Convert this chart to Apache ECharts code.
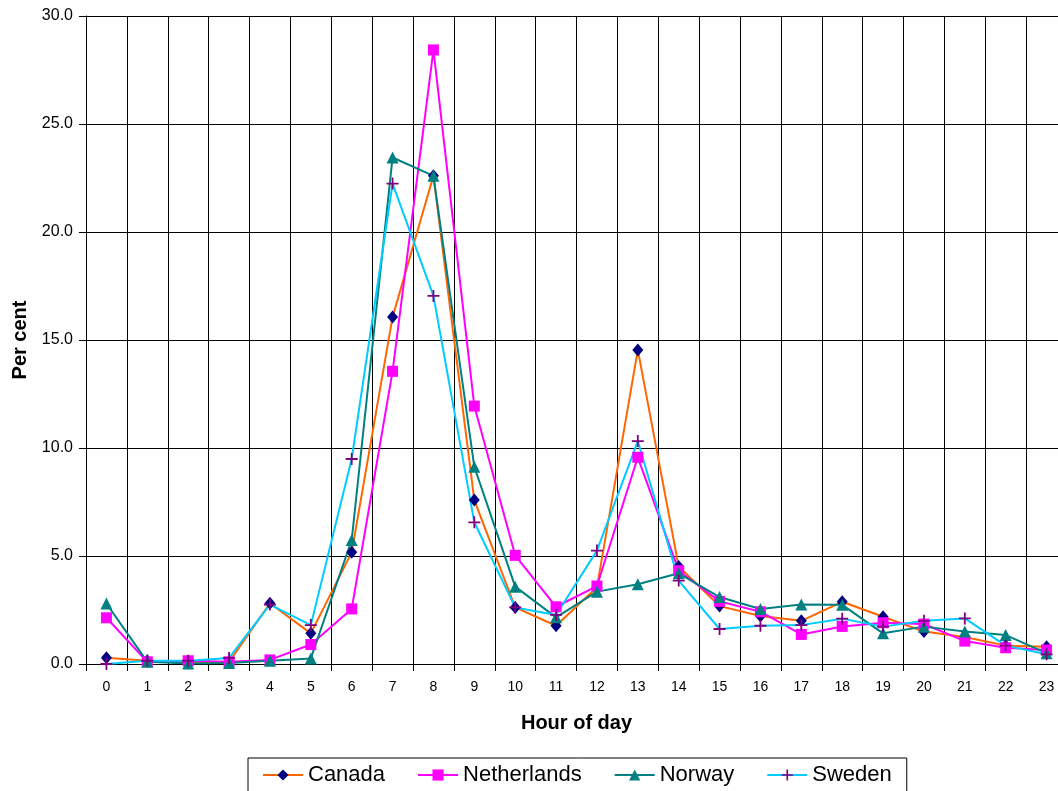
<!DOCTYPE html>
<html>
<head>
<meta charset="utf-8">
<script src="https://cdn.jsdelivr.net/npm/echarts@6/dist/echarts.min.js"></script>
<style>
html,body{margin:0;padding:0;background:#fff;}
#chart{width:1058px;height:791px;}
</style>
</head>
<body>
<div id="chart"></div>
<script>
var hours = ['0','1','2','3','4','5','6','7','8','9','10','11','12','13','14','15','16','17','18','19','20','21','22','23'];
var canada = [0.29,0.15,0.05,0.1,2.81,1.42,5.17,16.06,22.6,7.59,2.62,1.77,3.55,14.54,4.51,2.68,2.22,2.0,2.88,2.19,1.5,1.25,0.85,0.8];
var netherlands = [2.14,0.1,0.15,0.1,0.19,0.9,2.55,13.55,28.43,11.94,5.03,2.65,3.61,9.57,4.32,2.9,2.42,1.37,1.74,1.91,1.85,1.06,0.75,0.65];
var norway = [2.8,0.1,0.02,0.05,0.15,0.26,5.74,23.45,22.6,9.13,3.58,2.16,3.35,3.69,4.2,3.1,2.55,2.76,2.74,1.42,1.73,1.5,1.34,0.5];
var sweden = [0.0,0.15,0.15,0.28,2.75,1.8,9.49,22.24,17.04,6.56,2.62,2.27,5.25,10.32,3.86,1.62,1.77,1.8,2.1,1.73,2.0,2.11,0.85,0.45];
var yTicks = {min: 0, max: 30, interval: 5};

var plusPath = 'path://M4.25,0h1.5v4.25h4.25v1.5h-4.25v4.25h-1.5v-4.25h-4.25v-1.5h4.25z';
var font = 'Liberation Sans, Arial, sans-serif';

function mk(name, data, lineColor, markColor, symbol, size) {
  return {
    name: name, type: 'line', data: data,
    symbol: symbol, symbolSize: size,
    lineStyle: {color: lineColor, width: 2},
    itemStyle: {color: markColor},
    emphasis: {disabled: true},
    animation: false
  };
}

var chart = echarts.init(document.getElementById('chart'));
chart.setOption({
  backgroundColor: '#fff',
  animation: false,
  grid: {left: 86, top: 16, right: -9, bottom: 127, containLabel: false, outerBoundsMode: 'none'},
  legend: {
    data: ['Canada','Netherlands','Norway','Sweden'],
    left: 248, top: 758,
    itemWidth: 40, itemHeight: 14, itemGap: 32,
    padding: [6, 15, 10, 14],
    borderColor: '#000', borderWidth: 1,
    textStyle: {fontFamily: font, fontSize: 22, color: '#000'}
  },
  xAxis: {
    type: 'category', data: hours, boundaryGap: true,
    name: 'Hour of day', nameLocation: 'middle', nameGap: 49,
    nameTextStyle: {fontFamily: font, fontSize: 20, fontWeight: 'bold', color: '#000'},
    axisLine: {lineStyle: {color: '#000', width: 1}},
    axisTick: {show: true, length: 7, lineStyle: {color: '#000'}},
    axisLabel: {fontFamily: font, fontSize: 14, color: '#000', margin: 16, interval: 0},
    splitLine: {show: true, lineStyle: {color: '#000', width: 1}}
  },
  yAxis: {
    type: 'value', min: yTicks.min, max: yTicks.max, interval: yTicks.interval,
    name: 'Per cent', nameLocation: 'middle', nameGap: 56, nameRotate: 90,
    nameTextStyle: {fontFamily: font, fontSize: 20, fontWeight: 'bold', color: '#000'},
    axisLine: {show: true, lineStyle: {color: '#000', width: 1}},
    axisTick: {show: true, length: 7, lineStyle: {color: '#000'}},
    axisLabel: {fontFamily: font, fontSize: 16, color: '#000', margin: 13,
      formatter: function(v){ return v.toFixed(1); }},
    splitLine: {show: true, lineStyle: {color: '#000', width: 1}}
  },
  series: [
    mk('Canada', canada, '#FF6600', '#000080', 'diamond', [11, 13]),
    mk('Netherlands', netherlands, '#FF00FF', '#FF00FF', 'rect', 11),
    mk('Norway', norway, '#008080', '#008080', 'triangle', 12),
    mk('Sweden', sweden, '#00CCFF', '#800080', plusPath, 12)
  ]
});
</script>
</body>
</html>
